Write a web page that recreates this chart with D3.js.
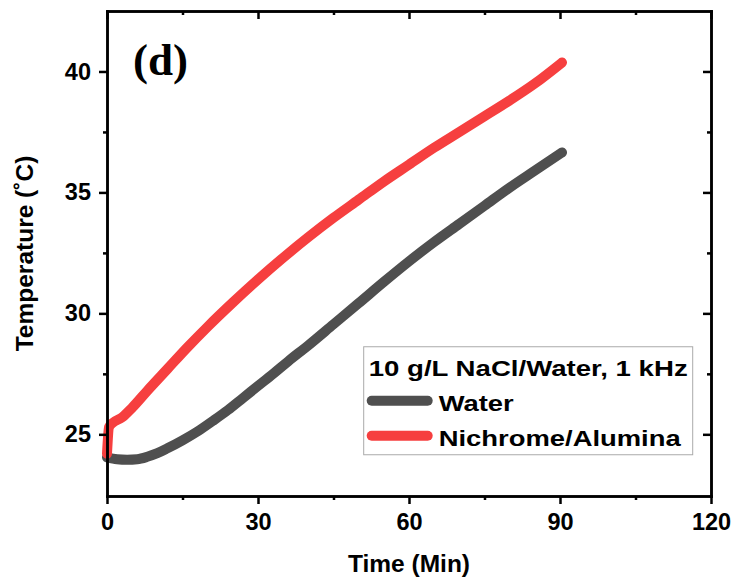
<!DOCTYPE html>
<meta charset="utf-8">
<style>
body { margin: 0; background: #fff; }
svg { display: block; font-family: "Liberation Sans", Arial, sans-serif; }
.axis path, .axis line { stroke: #000; stroke-width: 2.5px; }
.axis text { font-size: 23.5px; font-weight: bold; fill: #000; font-family: "Liberation Sans", Arial, sans-serif; }
.label { font-size: 24.5px; font-weight: bold; }
.legend text { font-size: 22px; font-weight: bold; }
</style>
<svg width="736" height="585"></svg>
<script src="https://cdn.jsdelivr.net/npm/d3@7"></script>
<script>

// values
var waterTime = [0, 2, 4, 6, 8, 10, 12, 15, 18, 21, 24, 27, 30, 33, 36, 40, 45, 50, 55, 60, 65, 70, 75, 80, 85, 90.4];
var waterTemp = [24.05, 23.97, 23.95, 23.97, 24.07, 24.22, 24.42, 24.75, 25.12, 25.55, 26.0, 26.5, 27.0, 27.5, 28.02, 28.68, 29.55, 30.42, 31.3, 32.15, 32.95, 33.7, 34.45, 35.2, 35.9, 36.65];

var nichromeTime = [0, 0.4, 1, 3, 5, 8, 12, 16, 20, 25, 30, 35, 40, 45, 50, 55, 60, 65, 70, 75, 80, 85, 90.4];
var nichromeTemp = [24.2, 25.3, 25.45, 25.7, 26.1, 26.8, 27.7, 28.6, 29.45, 30.45, 31.4, 32.3, 33.15, 33.95, 34.7, 35.45, 36.15, 36.85, 37.5, 38.15, 38.8, 39.5, 40.37];

var xTicks = [0, 30, 60, 90, 120];
var xMinor = [15, 45, 75, 105];
var yTicks = [25, 30, 35, 40];
var yMinor = [27.5, 32.5, 37.5];

var seriesNames = ["Water", "Nichrome/Alumina"];
var seriesColors = ["#4f4f4f", "#f63f3f"];
var legendTitle = "10 g/L NaCl/Water, 1 kHz";

var svg = d3.select("svg"),
    margin = {top: 11, right: 25, bottom: 89, left: 107},
    width = +svg.attr("width") - margin.left - margin.right,
    height = +svg.attr("height") - margin.top - margin.bottom;

var x = d3.scaleLinear().domain([0, 120]).range([0, width]),
    y = d3.scaleLinear().domain([22.45, 42.5]).range([height, 0]);

var g = svg.append("g")
    .attr("transform", "translate(" + margin.left + "," + margin.top + ")");

var line = d3.line()
    .curve(d3.curveMonotoneX)
    .x(function(d) { return x(d[0]); })
    .y(function(d) { return y(d[1]); });

var series = [
  d3.zip(waterTime, waterTemp),
  d3.zip(nichromeTime, nichromeTemp)
];

series.forEach(function(s, i) {
  g.append("path")
      .datum(s)
      .attr("fill", "none")
      .attr("stroke", seriesColors[i])
      .attr("stroke-width", 10)
      .attr("stroke-linejoin", "round")
      .attr("stroke-linecap", "round")
      .attr("d", line);
});

// minor ticks first, then the major axes on top
function minor(axis, vals) {
  return axis.tickValues(vals).tickFormat("").tickSizeOuter(0);
}

g.append("g").attr("class", "axis")
    .attr("transform", "translate(0," + height + ")")
    .call(minor(d3.axisBottom(x), xMinor).tickSizeInner(4));
g.append("g").attr("class", "axis")
    .call(minor(d3.axisTop(x), xMinor).tickSizeInner(-4));
g.append("g").attr("class", "axis")
    .call(minor(d3.axisLeft(y), yMinor).tickSizeInner(4));
g.append("g").attr("class", "axis")
    .attr("transform", "translate(" + width + ",0)")
    .call(minor(d3.axisRight(y), yMinor).tickSizeInner(-4));

g.append("g").attr("class", "axis")
    .attr("transform", "translate(0," + height + ")")
    .call(d3.axisBottom(x).tickValues(xTicks).tickSizeInner(8).tickSizeOuter(0).tickPadding(9));
g.append("g").attr("class", "axis")
    .call(d3.axisTop(x).tickValues(xTicks).tickSizeInner(-8).tickSizeOuter(0).tickFormat(""));
g.append("g").attr("class", "axis")
    .call(d3.axisLeft(y).tickValues(yTicks).tickSizeInner(8).tickSizeOuter(0).tickPadding(8));
g.append("g").attr("class", "axis")
    .attr("transform", "translate(" + width + ",0)")
    .call(d3.axisRight(y).tickValues(yTicks).tickSizeInner(-8).tickSizeOuter(0).tickFormat(""));

svg.selectAll(".axis .domain").attr("stroke-linecap", "square");

g.append("text")
    .attr("class", "label")
    .attr("x", width / 2)
    .attr("y", height + 76)
    .attr("text-anchor", "middle")
    .text("Time (Min)");

g.append("text")
    .attr("class", "label")
    .attr("transform", "translate(-74," + (height / 2) + ") rotate(-90)")
    .attr("text-anchor", "middle")
    .text("Temperature (\u02DAC)");

g.append("text")
    .attr("x", 26)
    .attr("y", 64)
    .attr("font-family", "'Liberation Serif', 'Times New Roman', serif")
    .attr("font-weight", "bold")
    .attr("font-size", 45)
    .text("(d)");

// legend
var lg = g.append("g").attr("class", "legend")
    .attr("transform", "translate(" + x(51) + "," + y(28.62) + ")");

lg.append("rect")
    .attr("width", 329)
    .attr("height", 108)
    .attr("fill", "#fff")
    .attr("stroke", "#aaa")
    .attr("stroke-width", 1);

lg.append("text")
    .attr("x", 5)
    .attr("y", 29)
    .attr("textLength", 319)
    .attr("lengthAdjust", "spacingAndGlyphs")
    .text(legendTitle);

var labelLengths = [75, 242];
seriesNames.forEach(function(name, i) {
  var yy = 54 + i * 35;
  lg.append("line")
      .attr("x1", 8).attr("x2", 64)
      .attr("y1", yy).attr("y2", yy)
      .attr("stroke", seriesColors[i])
      .attr("stroke-width", 10)
      .attr("stroke-linecap", "round");
  lg.append("text")
      .attr("x", 75)
      .attr("y", yy + 10)
      .attr("textLength", labelLengths[i])
      .attr("lengthAdjust", "spacingAndGlyphs")
      .text(name);
});

</script>
